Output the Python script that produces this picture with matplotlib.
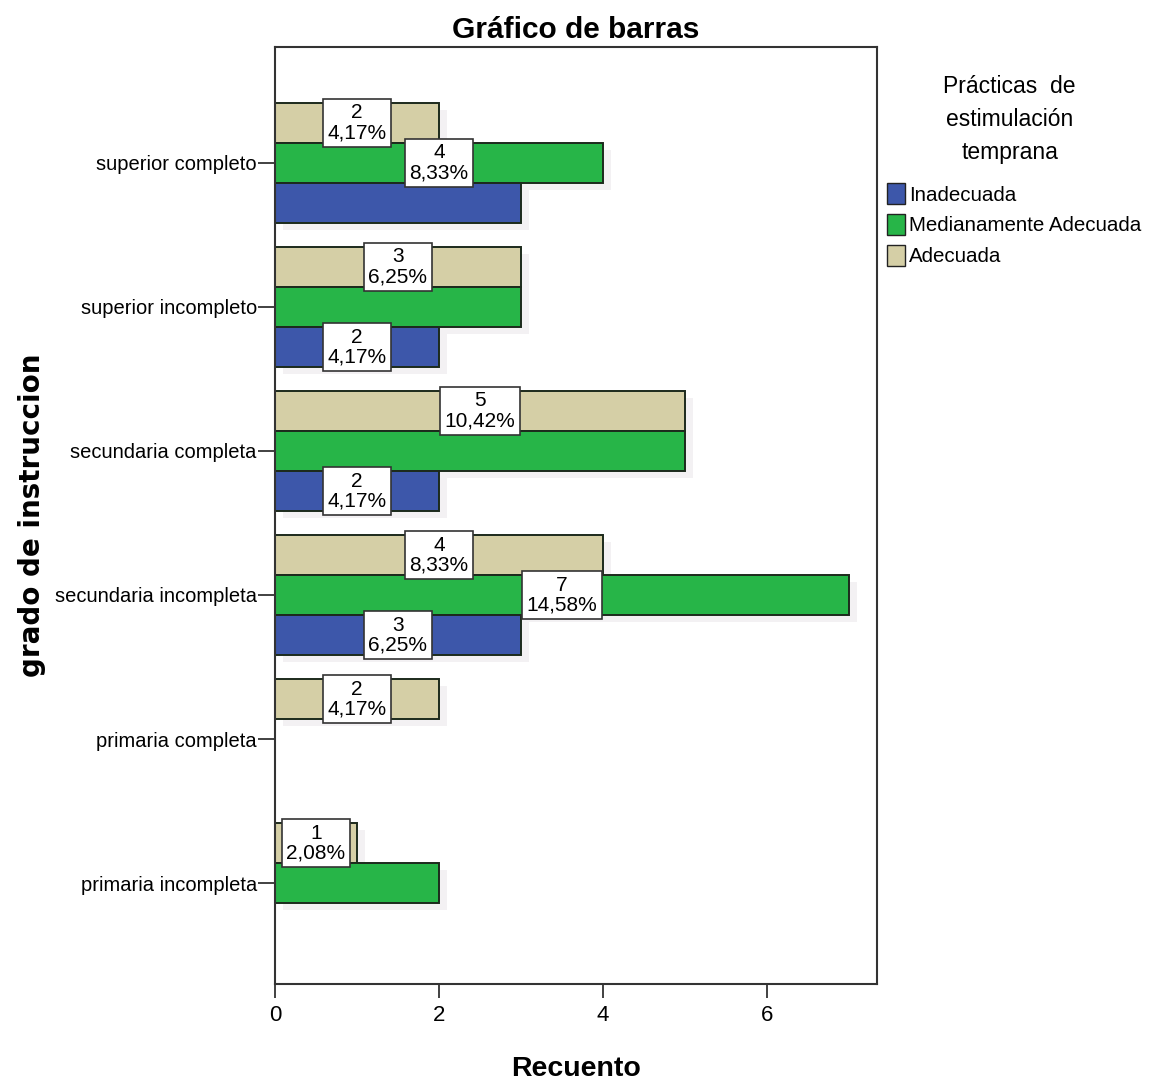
import numpy as np
import matplotlib
matplotlib.use("Agg")
import matplotlib.pyplot as plt
from matplotlib.patches import Patch

plt.rcParams['font.family'] = ['Liberation Sans', 'DejaVu Sans']

# grado de instruccion (top to bottom)
categorias = ["superior completo", "superior incompleto", "secundaria completa",
              "secundaria incompleta", "primaria completa", "primaria incompleta"]

# counts per category
adecuada = [2, 3, 5, 4, 2, 1]
medianamente = [4, 3, 5, 7, 0, 2]
inadecuada = [3, 2, 2, 3, 0, 0]

# which bars carry a value label
lbl_adecuada = [True, True, True, True, True, True]
lbl_medianamente = [True, False, False, True, False, False]
lbl_inadecuada = [False, True, True, True, False, False]

total = 48

c_inad = "#3D57AA"
c_med = "#27B548"
c_adec = "#D5CFA6"

fig = plt.figure(figsize=(11.5, 10.86), dpi=100)
ax = fig.add_axes([0.239, 0.094, 0.524, 0.863])

y = np.arange(len(categorias))
h = 0.278

series = [
    (adecuada, y - h, c_adec, lbl_adecuada),
    (medianamente, y, c_med, lbl_medianamente),
    (inadecuada, y + h, c_inad, lbl_inadecuada),
]

# faint drop shadows first
for vals, pos, col, _ in series:
    v = np.array(vals, dtype=float)
    m = v > 0
    ax.barh(pos[m] + 0.05, v[m], height=h, left=0.1, color="#F3F1F3",
            edgecolor="none", zorder=1)

for vals, pos, col, _ in series:
    ax.barh(pos, vals, height=h, color=col, edgecolor="#1c2a1c",
            linewidth=1.4, zorder=2)

for vals, pos, col, shown in series:
    for v, p, s in zip(vals, pos, shown):
        if not s or v == 0:
            continue
        pct = f"{v / total * 100:.2f}".replace(".", ",")
        ax.text(v / 2, p, f"{v}\n{pct}%", ha="center", va="center",
                fontsize=15, linespacing=1.05, zorder=4,
                bbox=dict(boxstyle="square,pad=0.22", fc="white",
                          ec="#333333", lw=1.2))

ax.set_xlim(0, 7.35)
ax.set_ylim(5.70, -0.806)
ax.set_yticks(y)
ax.set_yticklabels(categorias, fontsize=14.5)
ax.set_xticks([0, 2, 4, 6])
ax.set_xticklabels(["0", "2", "4", "6"], fontsize=16)
ax.tick_params(axis="y", direction="out", length=12, width=1.3, color="#333333", pad=1)
ax.tick_params(axis="x", direction="out", length=10, width=1.3, color="#333333", pad=5)
for sp in ax.spines.values():
    sp.set_linewidth(1.5)
    sp.set_color("#333333")

ax.set_xlabel("Recuento", fontsize=20.5, fontweight="bold", labelpad=22)
ax.set_ylabel("grado de instruccion", fontsize=20, fontweight="bold",
              family="DejaVu Sans", labelpad=6)
ax.set_title("Gráfico de barras", fontsize=21.5, fontweight="bold", pad=6)

# legend heading, then the entries below it
fig.text(0.878, 0.931, "Prácticas  de\nestimulación\ntemprana", ha="center", va="top",
         fontsize=16.5, linespacing=1.55, multialignment="center")

handles = [Patch(facecolor=c_inad, edgecolor="#222222", label="Inadecuada"),
           Patch(facecolor=c_med, edgecolor="#222222", label="Medianamente Adecuada"),
           Patch(facecolor=c_adec, edgecolor="#222222", label="Adecuada")]
leg = fig.legend(handles=handles, loc="upper left", bbox_to_anchor=(0.764, 0.839),
                 frameon=False, fontsize=14.8, handlelength=0.9, handleheight=1.2,
                 handletextpad=0.2, labelspacing=0.45, borderaxespad=0)

fig.savefig("out.png", dpi=100)
